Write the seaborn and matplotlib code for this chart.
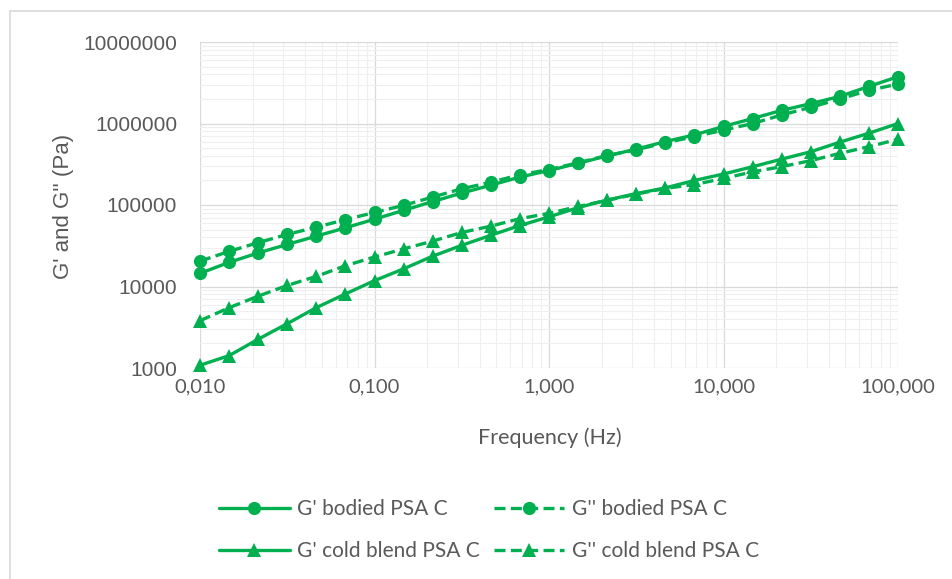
import numpy as np
import pandas as pd
import matplotlib
matplotlib.use("Agg")
import matplotlib.pyplot as plt
from matplotlib.ticker import FixedLocator, FixedFormatter, LogLocator, NullFormatter
from matplotlib.lines import Line2D
import seaborn as sns

# ---------------- data ----------------
freq = [0.01, 0.0147, 0.0215, 0.0316, 0.0464, 0.0681,
        0.1, 0.147, 0.215, 0.316, 0.464, 0.681,
        1.0, 1.47, 2.15, 3.16, 4.64, 6.81,
        10.0, 14.7, 21.5, 31.6, 46.4, 68.1, 100.0]

g1_bodied = [14500, 19800, 25800, 32800, 41500, 52500,
             67000, 86000, 110000, 140000, 175000, 220000,
             265000, 325000, 400000, 485000, 600000, 725000,
             920000, 1150000, 1450000, 1750000, 2150000, 2850000, 3750000]

g2_bodied = [20500, 27000, 34500, 43500, 53500, 66000,
             81000, 99000, 125000, 158000, 190000, 235000,
             272000, 330000, 405000, 475000, 580000, 690000,
             830000, 1000000, 1270000, 1580000, 2000000, 2550000, 3050000]

g1_cold = [1080, 1420, 2250, 3500, 5500, 8100,
           11800, 16500, 23500, 32000, 42500, 56000,
           71500, 93000, 115000, 138000, 162000, 200000,
           240000, 295000, 365000, 450000, 590000, 760000, 1000000]

g2_cold = [3800, 5500, 7600, 10300, 13300, 18000,
           23000, 29000, 36000, 46000, 55000, 68000,
           79000, 96000, 114000, 136000, 160000, 178000,
           212000, 255000, 295000, 350000, 430000, 520000, 640000]

series_names = ["G' bodied PSA C", "G'' bodied PSA C",
                "G' cold blend PSA C", "G'' cold blend PSA C"]

x_ticks = [0.01, 0.1, 1, 10, 100]
x_tick_labels = ["0,010", "0,100", "1,000", "10,000", "100,000"]
y_ticks = [1000, 10000, 100000, 1000000, 10000000]
y_tick_labels = ["1000", "10000", "100000", "1000000", "10000000"]

x_title = "Frequency (Hz)"
y_title = "G' and G'' (Pa)"

# ---------------- frame ----------------
df = pd.concat([
    pd.DataFrame({"freq": freq, "val": v, "series": n})
    for v, n in zip([g1_bodied, g2_bodied, g1_cold, g2_cold], series_names)
], ignore_index=True)

sns.set_style("white")
GREEN = "#00B050"
GREY = "#595959"
W, H = 952, 579

fig = plt.figure(figsize=(W / 100, H / 100), dpi=100)
ax = fig.add_axes([200 / W, 1 - 368 / H, 698 / W, 326 / H])

styles = {
    "G' bodied PSA C": ("o", "-"),
    "G'' bodied PSA C": ("o", "--"),
    "G' cold blend PSA C": ("^", "-"),
    "G'' cold blend PSA C": ("^", "--"),
}
handles = {}
for name in series_names:
    mk, ls = styles[name]
    sub = df[df["series"] == name]
    sns.lineplot(data=sub, x="freq", y="val", ax=ax, color=GREEN,
                 marker=mk, markersize=9.5, mec=GREEN, mfc=GREEN, mew=0,
                 linewidth=2.4, errorbar=None, label=name, clip_on=False,
                 legend=False)
    line = ax.lines[-1]
    if ls == "--":
        line.set_dashes((3.3, 1.6))
    handles[name] = line

ax.set_xscale("log")
ax.set_yscale("log")
ax.set_xlim(0.01, 100)
ax.set_ylim(1000, 10000000)

ax.xaxis.set_major_locator(FixedLocator(x_ticks))
ax.xaxis.set_major_formatter(FixedFormatter(x_tick_labels))
ax.yaxis.set_major_locator(FixedLocator(y_ticks))
ax.yaxis.set_major_formatter(FixedFormatter(y_tick_labels))
ax.xaxis.set_minor_locator(LogLocator(base=10, subs=np.arange(2, 10)))
ax.yaxis.set_minor_locator(LogLocator(base=10, subs=np.arange(2, 10)))
ax.xaxis.set_minor_formatter(NullFormatter())
ax.yaxis.set_minor_formatter(NullFormatter())

ax.set_axisbelow(True)
ax.grid(which="major", color="#d9d9d9", linewidth=0.9)
ax.grid(which="minor", color="#efefef", linewidth=0.8)
for s in ax.spines.values():
    s.set_visible(False)
ax.tick_params(axis="both", which="both", length=0)
ax.tick_params(axis="y", pad=16.5, labelsize=15, labelcolor=GREY)
ax.tick_params(axis="x", pad=7.5, labelsize=14.5, labelcolor=GREY)
for t in ax.get_yticklabels():
    t.set_family("Liberation Sans")
for t in ax.get_xticklabels():
    t.set_family("Lato")
ax.set_xlabel("")
ax.set_ylabel("")

fig.text(63 / W, 1 - 206 / H, y_title, rotation=90, ha="center", va="center",
         fontsize=16, color=GREY, family="Liberation Sans")
fig.text(550 / W, 1 - 438 / H, x_title, ha="center", va="center",
         fontsize=15.5, color=GREY, family="Lato")

# legend (column-major order)
order = [series_names[0], series_names[2], series_names[1], series_names[3]]
leg = fig.legend([handles[n] for n in order], order, ncol=2,
                 loc="upper left", bbox_to_anchor=(219 / W, 1 - 499 / H),
                 frameon=False, borderaxespad=0, borderpad=0,
                 handlelength=3.4, handletextpad=0.34, columnspacing=0.67,
                 labelspacing=1.05,
                 prop={"family": "Lato", "size": 15})
for t in leg.get_texts():
    t.set_color(GREY)

# outer chart border
fig.add_artist(Line2D([10 / W, 1], [1 - 11 / H, 1 - 11 / H],
                      transform=fig.transFigure, color="#d9d9d9", lw=1.2))
fig.add_artist(Line2D([10 / W, 10 / W], [0, 1 - 11 / H],
                      transform=fig.transFigure, color="#d9d9d9", lw=1.2))

fig.savefig("out.png", dpi=100)
